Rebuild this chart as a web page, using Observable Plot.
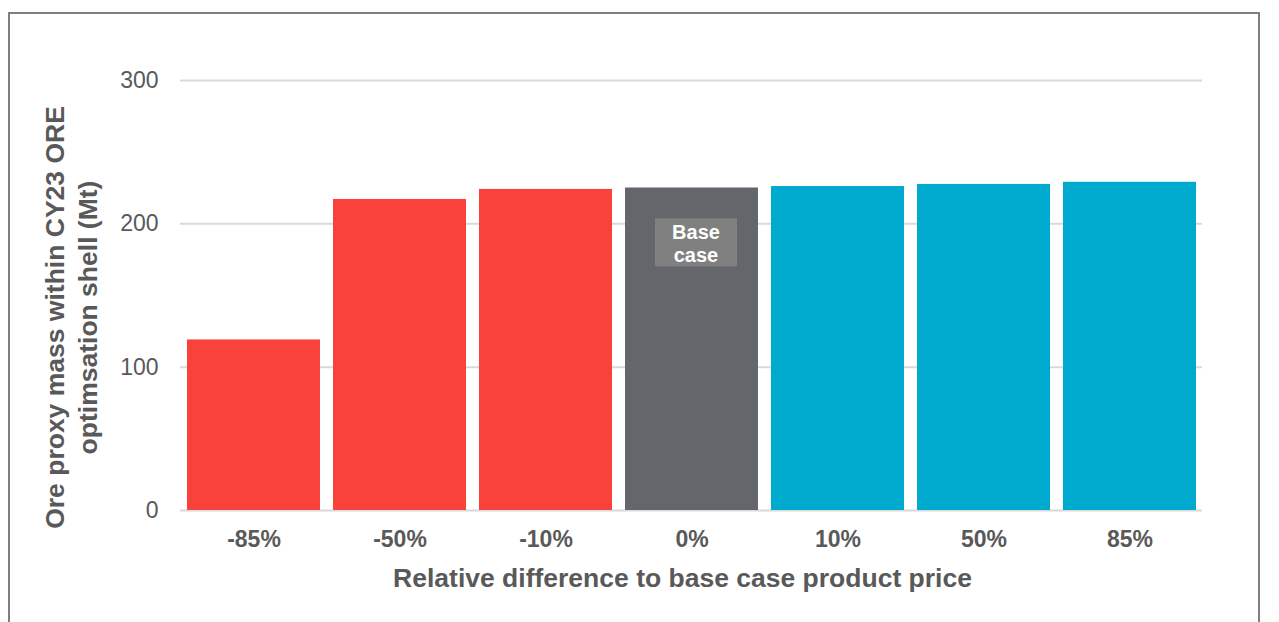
<!DOCTYPE html>
<html><head><meta charset="utf-8">
<script src="https://cdn.jsdelivr.net/npm/d3@7"></script>
<script src="https://cdn.jsdelivr.net/npm/@observablehq/plot@0.6"></script>
<style>
html,body{margin:0;padding:0;background:#fff;overflow:hidden;width:1279px;height:622px;}
#chart{position:absolute;left:0;top:0;}
#frame{position:absolute;left:8px;top:12px;width:1252px;height:700px;border:2px solid #7f7f7f;box-sizing:border-box;pointer-events:none;}
.c g[aria-label="x-axis tick label"]{font-weight:bold;}
</style></head><body>
<div id="chart"></div>
<div id="frame"></div>
<script>
const categories = ["-85%","-50%","-10%","0%","10%","50%","85%"];
const values = [119, 217, 224, 225, 226, 227.5, 229];
const groups = ["below","below","below","base","above","above","above"];
const groupDomain = ["below","base","above"];
const groupColors = ["#F9423A","#63666A","#00A9CE"];
const yTicks = [0, 100, 200, 300];
const xTitle = "Relative difference to base case product price";
const yTitle = "Ore proxy mass within CY23 ORE\noptimsation shell (Mt)";
const baseLabelCategory = ["0%"];
const baseLabelText = ["Base\ncase"];
const baseLabelBox = [[170, 203.5]];
const baseLabelY = [186];

const data = categories.map((c, i) => ({category: c, value: values[i], group: groups[i]}));
const labelData = baseLabelCategory.map((c, i) => ({category: c, text: baseLabelText[i], y1: baseLabelBox[i][0], y2: baseLabelBox[i][1], y: baseLabelY[i]}));

const chart = Plot.plot({
  width: 1279,
  height: 622,
  marginLeft: 180,
  marginRight: 77,
  marginTop: 80,
  marginBottom: 112,
  className: "c",
  style: {fontFamily: "'Liberation Sans', Arial, sans-serif", fontSize: "23px", color: "#595959", background: "white"},
  x: {domain: categories, paddingInner: 0.09, paddingOuter: 0.045, label: null},
  y: {domain: [0, 300], label: null},
  color: {domain: groupDomain, range: groupColors},
  marks: [
    Plot.ruleY(yTicks, {stroke: "#d9d9d9", strokeWidth: 2}),
    Plot.barY(data, {x: "category", y: "value", fill: "group"}),
    Plot.rectY(labelData, {x: "category", y1: "y1", y2: "y2", fill: "#808080", insetLeft: 30, insetRight: 21}),
    Plot.text(labelData, {x: "category", y: "y", text: "text", fill: "white", fontSize: 20, fontWeight: "bold", lineHeight: 1.15, dx: 4, dy: -1}),
    Plot.axisY({ticks: yTicks, tickSize: 0, tickPadding: 22, label: null}),
    Plot.axisX({tickSize: 0, tickPadding: 20, label: null}),
    Plot.text([xTitle], {frameAnchor: "bottom", lineAnchor: "middle", textAnchor: "middle", dy: 68.5, dx: -9, fontSize: 26.5, fontWeight: "bold", fill: "#595959"}),
    Plot.text([yTitle], {frameAnchor: "left", textAnchor: "middle", lineAnchor: "middle", rotate: -90, dx: -111, dy: 22, fontSize: 26.5, fontWeight: "bold", fill: "#595959", lineHeight: 1.25})
  ]
});
document.getElementById("chart").appendChild(chart);
</script>
</body></html>
